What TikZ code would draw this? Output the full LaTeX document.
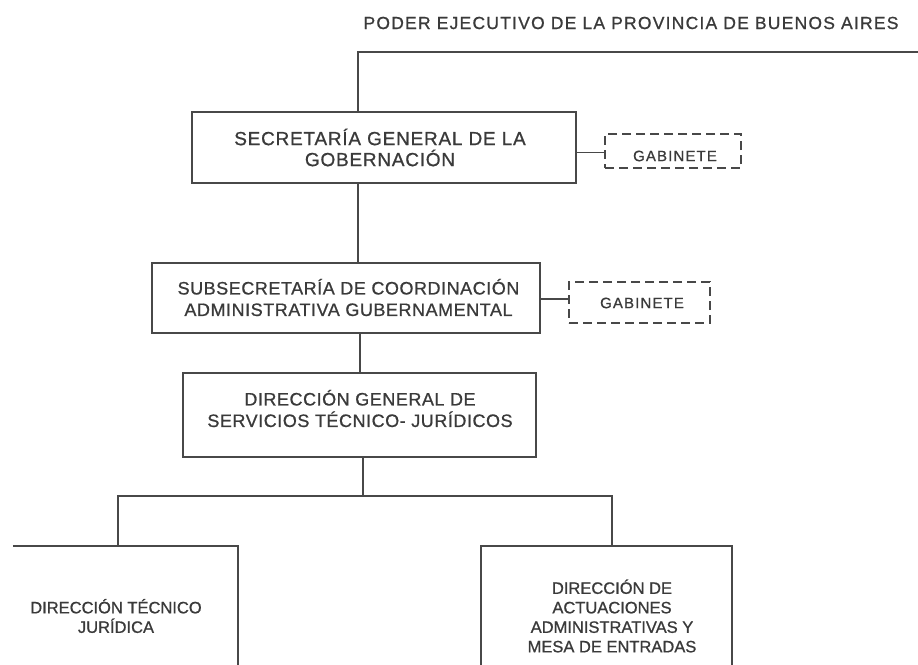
\documentclass[tikz,border=0pt]{standalone}
\usepackage{fontspec}
\setmainfont{Liberation Sans}
\newfontfamily\titlefont[LetterSpace=7,FakeBold=0.8]{Liberation Sans}
\newfontfamily\boxfontA[LetterSpace=4,FakeBold=0.8]{Liberation Sans}
\newfontfamily\boxfont[LetterSpace=3,FakeBold=0.8]{Liberation Sans}
\newfontfamily\gabfont[LetterSpace=7.5,FakeBold=0.8]{Liberation Sans}
\newfontfamily\smallfont[FakeBold=0.8]{Liberation Sans}
\definecolor{ink}{HTML}{3a3a3a}
\definecolor{rulecol}{HTML}{484848}
\begin{document}
\begin{tikzpicture}[x=1pt,y=-1pt,
  conn/.style={draw=rulecol, line width=1.6pt},
  orgbox/.style={draw=rulecol, line width=1.6pt, rectangle, inner sep=0pt},
  gabbox/.style={draw=rulecol, line width=1.4pt, rectangle, inner sep=0pt, dash pattern=on 9pt off 5pt},
  bigtextA/.style={text=ink, align=center, font=\boxfontA\fontsize{19}{21}\selectfont},
  bigtext/.style={text=ink, align=center, font=\boxfont\fontsize{18}{21.5}\selectfont},
  gabtext/.style={text=ink, font=\gabfont\fontsize{15}{16}\selectfont},
  smalltext/.style={text=ink, align=center, font=\smallfont\fontsize{16.5}{19.5}\selectfont},
  titletext/.style={text=ink, font=\titlefont\fontsize{17.5}{19}\selectfont}]
\useasboundingbox (0,0) rectangle (918,664);
\fill[white] (0,0) rectangle (918,664);

% title
\node[titletext] (title) at (631,23) {PODER EJECUTIVO DE LA PROVINCIA DE BUENOS AIRES};

% boxes
\node[orgbox, minimum width=384pt, minimum height=71pt] (b1) at (384,147.5) {};
\node[orgbox, minimum width=388pt, minimum height=70pt] (b2) at (346,298) {};
\node[orgbox, minimum width=353pt, minimum height=84pt] (b3) at (359.5,415) {};
\node[gabbox, minimum width=136pt, minimum height=34pt] (g1) at (673,151) {};
\node[gabbox, minimum width=141pt, minimum height=41pt] (g2) at (639.5,302.5) {};
\node[minimum width=225pt, minimum height=140pt, inner sep=0pt] (b4) at (125.5,616) {};
\node[minimum width=251pt, minimum height=140pt, inner sep=0pt] (b5) at (606.5,616) {};
\draw[conn] (b4.north west) -- (b4.north east) -- (b4.south east);
\draw[conn] (b5.south west) -- (b5.north west) -- (b5.north east) -- (b5.south east);

% texts
\node[bigtextA] (t1) at (380,147.5) {SECRETARÍA GENERAL DE LA\\GOBERNACIÓN};
\node[bigtext] (t2) at (348.5,297.5) {SUBSECRETARÍA DE COORDINACIÓN\\ADMINISTRATIVA GUBERNAMENTAL};
\node[bigtext] (t3) at (360,408.5) {DIRECCIÓN GENERAL DE\\SERVICIOS TÉCNICO- JURÍDICOS};
\node[gabtext] (tg1) at (675,156) {GABINETE};
\node[gabtext] (tg2) at (642,303) {GABINETE};
\node[smalltext] (t4) at (116,616) {DIRECCIÓN TÉCNICO\\JURÍDICA};
\node[smalltext] (t5) at (612,616) {DIRECCIÓN DE\\ACTUACIONES\\ADMINISTRATIVAS Y\\MESA DE ENTRADAS};

% connectors
\coordinate (topR) at (918,52);
\coordinate (topL) at (358,52);
\coordinate (v2) at (360,0);
\coordinate (v3) at (363,0);
\coordinate (busL) at (118,496);
\coordinate (busR) at (612,496);
\coordinate (g1y) at (0,152.5);
\coordinate (g2y) at (0,299);
\draw[conn] (topR) -- (topL) -- (topL |- b1.north);
\draw[conn] (topL |- b1.south) -- (topL |- b2.north);
\draw[conn] (v2 |- b2.south) -- (v2 |- b3.north);
\draw[conn] (v3 |- b3.south) -- (v3 |- busL);
\draw[conn] (busL |- b4.north) -- (busL) -- (busR) -- (busR |- b5.north);
\draw[conn] (b1.east |- g1y) -- (g1.west |- g1y);
\draw[conn] (b2.east |- g2y) -- (g2.west |- g2y);
\end{tikzpicture}
\end{document}
